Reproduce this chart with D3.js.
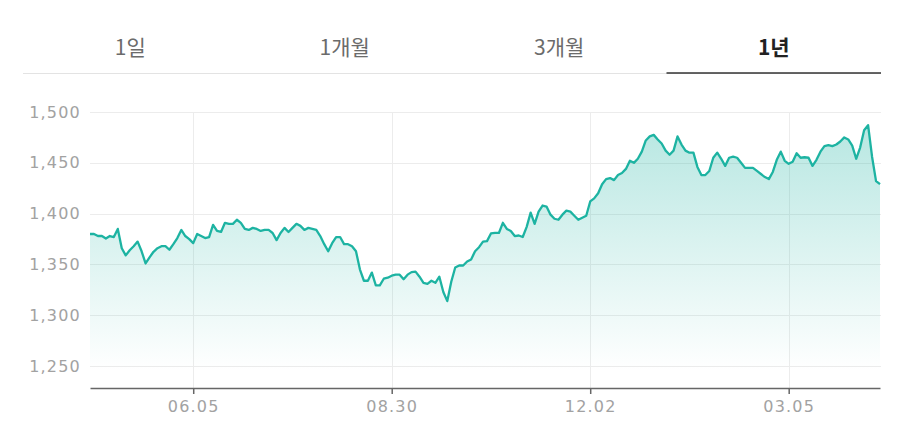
<!DOCTYPE html>
<html>
<head>
<meta charset="utf-8">
<script src="https://cdn.jsdelivr.net/npm/d3@7"></script>
<style>
  html, body { margin: 0; padding: 0; background: #fff; }
  svg { display: block; }
</style>
</head>
<body>
<svg id="chart" width="912" height="441"></svg>
<script>
// ---- data ----
const tabs = ["1일", "1개월", "3개월", "1년"];
const activeTab = 3;
const yTicks = [1250, 1300, 1350, 1400, 1450, 1500];
const tickLabels = ["06.05", "08.30", "12.02", "03.05"];
const tickIndex = [26, 76, 126, 176];
const values = [
  1380, 1380, 1378, 1378, 1375.5, 1378, 1377, 1385, 1366, 1359,
  1364, 1368, 1372.5, 1363, 1351, 1357, 1362.5, 1366, 1368, 1368,
  1364.5, 1370, 1376, 1384, 1378, 1375, 1371, 1380, 1378, 1376,
  1377, 1389, 1383, 1382, 1391, 1390, 1390, 1394, 1391, 1385,
  1384, 1386, 1385, 1383, 1384, 1384, 1381, 1374, 1381, 1386,
  1382, 1386, 1390, 1388, 1384, 1386, 1385, 1384, 1378, 1370,
  1363, 1371, 1377, 1377, 1370, 1370, 1368, 1363, 1345, 1334,
  1334, 1342, 1329.5, 1329.5, 1336, 1337, 1339, 1340, 1340, 1335.5,
  1340, 1342.5, 1343, 1338, 1332, 1331, 1334, 1332, 1338, 1323,
  1314, 1333, 1347, 1349, 1349, 1353, 1355, 1363, 1367, 1372.5,
  1373, 1380.5, 1381, 1381, 1391, 1385, 1383, 1378, 1378.5, 1377,
  1387, 1401, 1390, 1402, 1408, 1407, 1399, 1395, 1394, 1399,
  1403, 1402, 1398, 1394, 1396, 1398, 1412, 1415, 1420, 1429,
  1434, 1435, 1433, 1438, 1440, 1444, 1452, 1450, 1454, 1461,
  1472, 1476, 1477.5, 1473, 1469, 1462, 1458, 1462, 1476, 1468,
  1462, 1460, 1460, 1446, 1438, 1438, 1442, 1455, 1460, 1454,
  1447, 1455, 1456, 1455, 1450, 1445, 1445, 1445, 1442, 1439,
  1436, 1434, 1441, 1453, 1461, 1452, 1449, 1451, 1459.5, 1455,
  1455.5, 1455, 1447, 1453, 1461, 1466.5, 1467.5, 1466.5, 1468, 1471,
  1475, 1473, 1467, 1454, 1465, 1482, 1487, 1456, 1432, 1429
];

// ---- layout ----
const svg = d3.select("#chart");
const plotLeft = 90, plotRight = 880, plotTop = 112, plotBottom = 388;
const teal = "#1db3a2";
const labelFont = "'DejaVu Sans', 'Noto Sans', sans-serif";

const x = d3.scaleLinear().domain([0, values.length - 1]).range([plotLeft, plotRight]);
const y = d3.scaleLinear().domain([1228.5, 1500]).range([plotBottom, plotTop]);

// ---- tabs ----
const tabX = d3.scaleBand().domain(tabs).range([23, 881]);
const tabG = svg.append("g");
tabG.append("line")
  .attr("x1", 23).attr("x2", 881).attr("y1", 73.5).attr("y2", 73.5)
  .attr("stroke", "#e3e3e3").attr("stroke-width", 1);
tabG.append("line")
  .attr("x1", tabX(tabs[activeTab])).attr("x2", tabX(tabs[activeTab]) + tabX.bandwidth())
  .attr("y1", 73).attr("y2", 73)
  .attr("stroke", "#333").attr("stroke-width", 1.6);
tabG.selectAll("text.tab").data(tabs).join("text")
  .attr("class", "tab")
  .attr("x", d => tabX(d) + tabX.bandwidth() / 2)
  .attr("y", 55)
  .attr("text-anchor", "middle")
  .attr("font-family", "'Noto Sans CJK KR', 'Noto Sans', sans-serif")
  .attr("font-size", 21)
  .attr("font-weight", (d, i) => i === activeTab ? 700 : 400)
  .attr("fill", (d, i) => i === activeTab ? "#222" : "#6b6b6b")
  .text(d => d);

// ---- gradient ----
const defs = svg.append("defs");
const grad = defs.append("linearGradient")
  .attr("id", "fillGrad")
  .attr("gradientUnits", "userSpaceOnUse")
  .attr("x1", 0).attr("x2", 0)
  .attr("y1", y(1490)).attr("y2", y(1245));
grad.append("stop").attr("offset", "0%").attr("stop-color", teal).attr("stop-opacity", 0.32);
grad.append("stop").attr("offset", "100%").attr("stop-color", teal).attr("stop-opacity", 0);

// ---- grid ----
const gridG = svg.append("g");
gridG.selectAll("line.h").data(yTicks).join("line")
  .attr("class", "h")
  .attr("x1", plotLeft).attr("x2", plotRight + 1)
  .attr("y1", d => Math.round(y(d)) + 0.5).attr("y2", d => Math.round(y(d)) + 0.5)
  .attr("stroke", "#ececec").attr("stroke-width", 1);
gridG.selectAll("line.v").data(tickIndex).join("line")
  .attr("class", "v")
  .attr("x1", d => Math.round(x(d)) + 0.5).attr("x2", d => Math.round(x(d)) + 0.5)
  .attr("y1", plotTop).attr("y2", plotBottom)
  .attr("stroke", "#ececec").attr("stroke-width", 1);

// ---- area & line ----
const area = d3.area()
  .x((d, i) => x(i))
  .y0(plotBottom)
  .y1(d => y(d));
svg.append("path").datum(values)
  .attr("d", area)
  .attr("fill", "url(#fillGrad)");

const line = d3.line()
  .x((d, i) => x(i))
  .y(d => y(d));
svg.append("path").datum(values)
  .attr("d", line)
  .attr("fill", "none")
  .attr("stroke", teal)
  .attr("stroke-width", 2.3)
  .attr("stroke-linejoin", "round");

// ---- y axis labels ----
const fmt = d3.format(",");
const yAxis = d3.axisLeft(y).tickValues(yTicks).tickFormat(fmt).tickSize(0).tickPadding(9);
const yG = svg.append("g").attr("transform", `translate(${plotLeft},0)`).call(yAxis);
yG.select(".domain").remove();
yG.selectAll("text")
  .attr("font-family", labelFont)
  .attr("font-size", 16)
  .attr("letter-spacing", "1.2px")
  .attr("fill", "#a2a2a2");

// ---- x axis ----
const xAxis = d3.axisBottom(x).tickValues(tickIndex)
  .tickFormat((d, i) => tickLabels[i]).tickSize(6).tickSizeOuter(0).tickPadding(7);
const xG = svg.append("g").attr("transform", `translate(0,${plotBottom})`).call(xAxis);
xG.select(".domain").attr("stroke", "#666").attr("stroke-width", 1.5);
xG.selectAll(".tick line").attr("stroke", "#666").attr("stroke-width", 1.5);
xG.selectAll("text")
  .attr("font-family", labelFont)
  .attr("font-size", 16)
  .attr("letter-spacing", "1.2px")
  .attr("fill", "#a2a2a2");
</script>
</body>
</html>
